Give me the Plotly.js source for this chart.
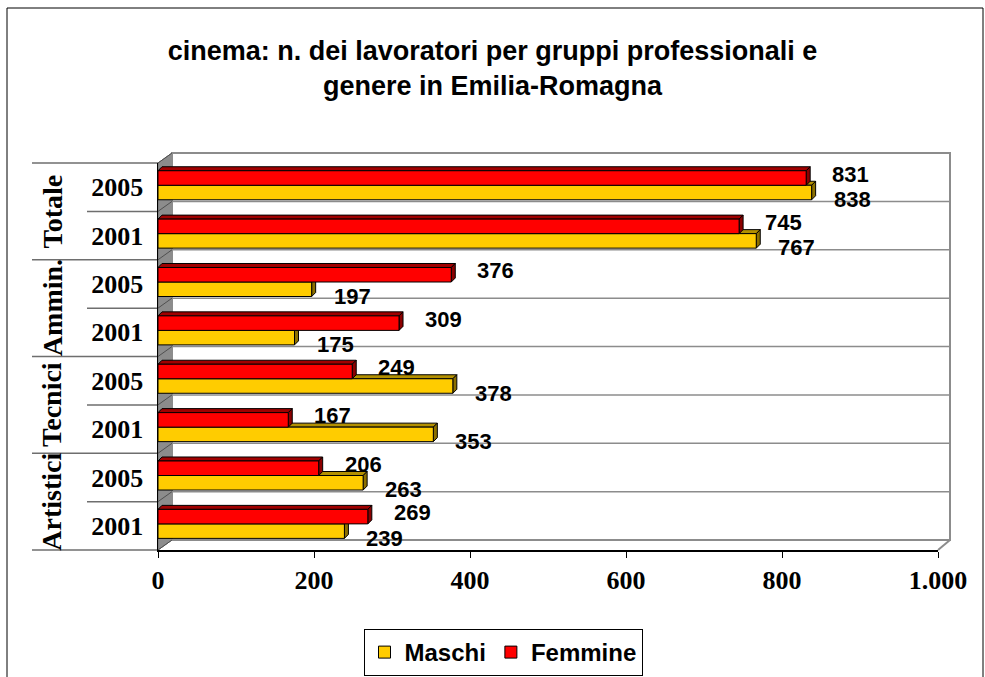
<!DOCTYPE html>
<html>
<head>
<meta charset="utf-8">
<script src="https://cdn.plot.ly/plotly-3.0.1.min.js"></script>
<style>
  html, body { margin: 0; padding: 0; background: #ffffff; }
  #chart { width: 985px; height: 677px; }
</style>
</head>
<body>
<div id="chart"></div>
<script>
// ---------------- DATA ----------------
const groups = ['Artistici', 'Tecnici', 'Ammin.', 'Totale'];
const years = ['2001', '2005'];
// rows bottom -> top: Artistici 2001, Artistici 2005, Tecnici 2001, ...
const rowYears = ['2001', '2005', '2001', '2005', '2001', '2005', '2001', '2005'];
const rowGroups = ['Artistici', 'Artistici', 'Tecnici', 'Tecnici', 'Ammin.', 'Ammin.', 'Totale', 'Totale'];
const maschi  = [239, 263, 353, 378, 175, 197, 767, 838];
const femmine = [269, 206, 167, 249, 309, 376, 745, 831];
const seriesNames = ['Maschi', 'Femmine'];
const xTicks = [0, 200, 400, 600, 800, 1000];
const titleText = 'cinema: n. dei lavoratori per gruppi professionali e<br>genere in Emilia-Romagna';

// ---------------- LAYOUT GEOMETRY ----------------
const W = 985, H = 677;
const ML = 158, MR = 47, MT = 163, MB = 127;
const PW = W - ML - MR, PH = H - MT - MB;
const XMAX = 1000;
const nRows = rowYears.length;
const rowIdx = rowYears.map((_, i) => i);
const pxX = px => (px - ML) / PW;          // pixel -> paper x
const pxY = py => (H - MB - py) / PH;      // pixel -> paper y
const rowPx = PH / nRows;                  // pixels per row
const unitPx = PW / XMAX;                  // pixels per x unit
const DEPTH = 4;                           // 3d bar depth in px
const dX = DEPTH / unitPx, dY = DEPTH / rowPx;
const WALL_DX = 14, WALL_DY = 10;

const serif = 'Liberation Serif, Times New Roman, serif';
const sans = 'Liberation Sans, Arial, sans-serif';

const bars = [
  { name: seriesNames[0], vals: maschi,  color: '#FFCC00', side: '#8C7000', top: '#B39000', offset: -0.26, width: 0.30, lx: 20, ly: -7 },
  { name: seriesNames[1], vals: femmine, color: '#FF0000', side: '#8C0000', top: '#A00000', offset: 0.04,  width: 0.30, lx: 24, ly: 4 }
];

const traces = bars.map(b => ({
  type: 'bar',
  orientation: 'h',
  name: b.name,
  x: b.vals,
  y: rowIdx,
  offset: b.offset,
  width: b.width,
  marker: { color: b.color, line: { color: '#000000', width: 1 } },
  hoverinfo: 'skip'
}));

// ---------------- SHAPES ----------------
const shapes = [];
const pLine = (x0, y0, x1, y1, color, width) => shapes.push({
  type: 'line', xref: 'paper', yref: 'paper',
  x0: pxX(x0), y0: pxY(y0), x1: pxX(x1), y1: pxY(y1),
  line: { color: color, width: width }, layer: 'below'
});

const frontTop = MT, frontBot = H - MB, frontL = ML, frontR = ML + PW;
// outer chart frame
shapes.push({ type: 'rect', xref: 'paper', yref: 'paper',
  x0: pxX(7), y0: pxY(700), x1: pxX(983), y1: pxY(8),
  line: { color: '#000000', width: 1 }, fillcolor: 'rgba(0,0,0,0)', layer: 'below' });
// left wall (gray)
shapes.push({ type: 'path', xref: 'paper', yref: 'paper',
  path: `M ${pxX(frontL)} ${pxY(frontTop)} L ${pxX(frontL + WALL_DX)} ${pxY(frontTop - WALL_DY)} L ${pxX(frontL + WALL_DX)} ${pxY(frontBot - WALL_DY)} L ${pxX(frontL)} ${pxY(frontBot)} Z`,
  fillcolor: '#8C8C8C', line: { color: '#6E6E6E', width: 1 }, layer: 'below' });
// back wall
shapes.push({ type: 'rect', xref: 'paper', yref: 'paper',
  x0: pxX(frontL + WALL_DX), y0: pxY(frontBot - WALL_DY), x1: pxX(frontR + WALL_DX - 2), y1: pxY(frontTop - WALL_DY),
  line: { color: '#8C8C8C', width: 2 }, fillcolor: 'rgba(0,0,0,0)', layer: 'below' });
// floor right diagonal
pLine(frontR, frontBot, frontR + WALL_DX - 2, frontBot - WALL_DY, '#8C8C8C', 2);
// row boundaries: back wall gridlines, wall diagonals, left label separators
for (let k = 0; k <= nRows; k++) {
  const b = frontBot - k * rowPx;
  if (k > 0 && k < nRows) pLine(frontL + WALL_DX, b - WALL_DY, frontR + WALL_DX - 2, b - WALL_DY, '#8C8C8C', 1.5);
  pLine(frontL, b, frontL + WALL_DX, b - WALL_DY, '#505050', 1);
  const startX = (k % 2 === 0) ? 32 : 87;
  pLine(startX, b, frontL, b, '#6E6E6E', 1.5);
}
// 3d faces of the bars (data coordinates, derived from the series)
bars.forEach(b => {
  b.vals.forEach((v, i) => {
    const yb = i + b.offset, yt = i + b.offset + b.width;
    shapes.push({ type: 'path', xref: 'x', yref: 'y', layer: 'below',
      path: `M 0 ${yt} L ${v} ${yt} L ${v + dX} ${yt + dY} L ${dX} ${yt + dY} Z`,
      fillcolor: b.top, line: { color: '#000000', width: 1 } });
    shapes.push({ type: 'path', xref: 'x', yref: 'y', layer: 'below',
      path: `M ${v} ${yb} L ${v} ${yt} L ${v + dX} ${yt + dY} L ${v + dX} ${yb + dY} Z`,
      fillcolor: b.side, line: { color: '#000000', width: 1 } });
  });
});

// ---------------- ANNOTATIONS ----------------
const annotations = [];
// group labels (rotated)
groups.forEach((g, gi) => {
  annotations.push({
    text: g, xref: 'paper', yref: 'y', x: pxX(52), y: gi * 2 + 0.5,
    textangle: -90, showarrow: false, xanchor: 'center', yanchor: 'middle',
    font: { family: serif, size: 28, color: '#000000', weight: 'bold' }
  });
});
// value labels
bars.forEach(b => {
  b.vals.forEach((v, i) => {
    annotations.push({
      text: String(v), xref: 'x', yref: 'y', x: v, y: i + b.offset + b.width / 2,
      xanchor: 'left', yanchor: 'middle', xshift: b.lx, yshift: b.ly, showarrow: false,
      font: { family: sans, size: 22, color: '#000000', weight: 'bold' }
    });
  });
});

const layout = {
  width: W, height: H,
  margin: { l: ML, r: MR, t: MT, b: MB, pad: 0, autoexpand: false },
  paper_bgcolor: '#ffffff', plot_bgcolor: 'rgba(0,0,0,0)',
  separators: ',.',
  barmode: 'overlay',
  showlegend: true,
  hovermode: false,
  title: {
    text: titleText, x: 0.5, xref: 'container', xanchor: 'center',
    y: 1 - 60 / H, yref: 'container', yanchor: 'top',
    font: { family: sans, size: 27, color: '#000000', weight: 'bold' }
  },
  xaxis: {
    range: [0, XMAX], tickvals: xTicks, tickformat: ',.0f',
    showgrid: false, zeroline: false, showline: true, linecolor: '#000000', linewidth: 1.5,
    ticks: 'outside', ticklen: 6, tickcolor: '#000000', tickwidth: 1,
    tickfont: { family: serif, size: 26, color: '#000000', weight: 'bold' },
    fixedrange: true
  },
  yaxis: {
    range: [-0.5, nRows - 0.5], tickvals: rowIdx, ticktext: rowYears,
    showgrid: false, zeroline: false, showline: true, linecolor: '#000000', linewidth: 1.5,
    ticks: '', ticklabelstandoff: 8,
    tickfont: { family: serif, size: 26, color: '#000000', weight: 'bold' },
    fixedrange: true
  },
  legend: {
    orientation: 'h', x: pxX(503), xanchor: 'center', xref: 'paper',
    y: pxY(629), yanchor: 'top', yref: 'paper',
    bordercolor: '#000000', borderwidth: 1, bgcolor: '#ffffff',
    font: { family: sans, size: 24, color: '#000000', weight: 'bold' },
    traceorder: 'normal', itemwidth: 30
  },
  shapes: shapes,
  annotations: annotations
};

Plotly.newPlot('chart', traces, layout, { staticPlot: true, displayModeBar: false });
</script>
</body>
</html>
